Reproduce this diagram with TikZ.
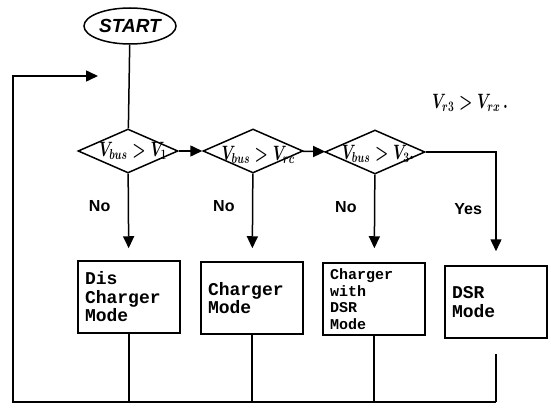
\documentclass[tikz,border=0pt]{standalone}
\usepackage{fontspec}
\setsansfont{Liberation Sans}
\setmonofont{Liberation Mono}
\usetikzlibrary{shapes.geometric,arrows.meta,positioning}

\newcommand{\hand}[1]{\scalebox{0.72}[1]{\boldmath$#1$}}

\begin{document}
\begin{tikzpicture}[
    x=1pt, y=-1pt,
    line width=1.5pt,
    startnode/.style={ellipse, draw, minimum width=92pt, minimum height=36pt, inner sep=0pt, font=\sffamily\bfseries\itshape\fontsize{19}{19}\selectfont},
    test/.style={diamond, draw, minimum width=100pt, minimum height=44pt, inner sep=0pt},
    mode/.style={rectangle, draw, minimum height=72pt, text width=88pt, inner xsep=7pt, align=left, font=\ttfamily\bfseries\fontsize{18}{18.5}\selectfont},
    answer/.style={font=\sffamily\bfseries\fontsize{16}{16}\selectfont},
    cond/.style={inner sep=0pt, font=\fontsize{21}{21}\selectfont},
    arrow/.style={-{Triangle[length=12pt,width=11pt]}}
]
\useasboundingbox (0,0) rectangle (551,409);

\node [startnode] (start) at (130,26) {START};

% tests
\node [test] (d1) at (128,151) {};
\node [test] (d2) at (253,151) {};
\node [test] (d3) at (375,152) {};
\node [cond] (c1) at (133,151) {\hand{V_{bus}>V_1}};
\node [cond] (c2) at (258,155) {\hand{V_{bus}>V_{rc}}};
\node [cond] (c3) at (378,154) {\hand{V_{bus}>V_3.}};
\node [cond] (note) at (470,103) {\hand{V_{r3}>V_{rx}\,.}};

% modes
\node [mode] (m1) at (129,297) {Dis\\Charger\\Mode};
\node [mode] (m2) at (252,298) {Charger\\Mode};
\node [mode, font=\ttfamily\bfseries\fontsize{15}{16.5}\selectfont] (m3) at (374,299) {Charger\\with\\DSR\\Mode};
\node [mode] (m4) at (496,302) {DSR\\Mode};

\draw (start) -- (d1);
\draw [arrow] (d1) -- (d2);
\draw [arrow] (d2) -- (d3);
\draw [arrow, shorten >=12pt] (d1) -- node [answer, pos=0.37, left=14pt] {No} (m1);
\draw [arrow, shorten >=13pt] (d2) -- node [answer, pos=0.37, left=14pt] {No} (m2);
\draw [arrow, shorten >=14pt] (d3) -- node [answer, pos=0.37, left=14pt] {No} (m3);
\draw [arrow, shorten >=14pt] (d3.east) -| node [answer, pos=0.75, left=10pt] {Yes} (m4);

% return path
\coordinate (base) at (13,402);
\coordinate (back) at (98,76);
\foreach \m in {m1,m2,m3}
    \draw (\m) -- (\m |- base);
\draw [shorten <=15pt] (m4) -- (m4 |- base);
\draw [arrow] (m4 |- base) -- (base) |- (back);

\end{tikzpicture}
\end{document}
